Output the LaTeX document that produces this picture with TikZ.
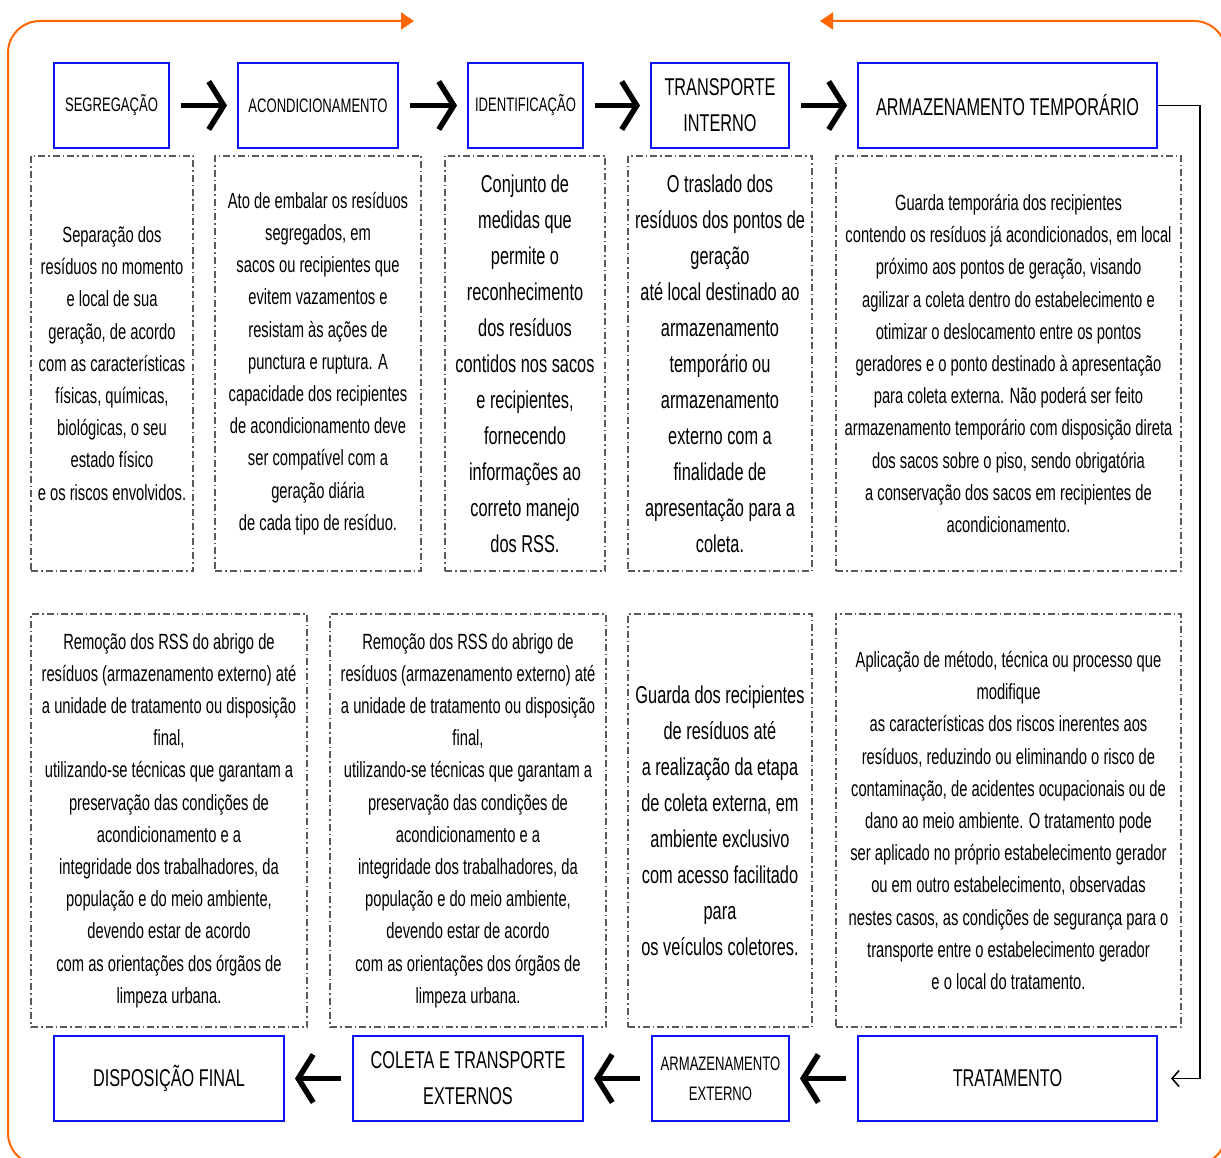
\documentclass[tikz,border=0pt]{standalone}
\usepackage{fontspec}
\setmainfont{Liberation Sans}[FakeStretch=0.67]
\usetikzlibrary{arrows.meta}
\definecolor{boxblue}{RGB}{10,20,245}
\definecolor{dashgray}{RGB}{90,90,90}
\definecolor{flow}{RGB}{255,102,0}
\begin{document}
\begin{tikzpicture}[x=1pt,y=-1pt,
  stepbox/.style={draw=boxblue,line width=2pt,inner sep=0pt,align=center,minimum height=85pt},
  bigfont/.style={font={\fontsize{24.3}{36}\selectfont}},
  smallfont/.style={font={\fontsize{19.5}{30}\selectfont}},
  descbox/.style={draw=dashgray,line width=1.2pt,dash pattern=on 7pt off 3pt on 1.5pt off 3pt,inner sep=0pt,align=center},
  desctext/.style={font={\fontsize{22}{32.2}\selectfont}},
  desclarge/.style={font={\fontsize{24.4}{36}\selectfont}},
  bigarrow/.style={line width=5.5pt,-{Straight Barb[length=15pt,width=48pt]},shorten <=11pt,shorten >=10pt},
  conn/.style={line width=1.6pt,-{Straight Barb[length=7pt,width=16pt]},shorten >=13pt},
  orangeflow/.style={draw=flow,line width=2pt,{Triangle[length=13pt,width=17pt]}-{Triangle[length=13pt,width=17pt]},rounded corners=32pt}
]
\clip (0,0) rectangle (1221,1158);
\fill[white] (0,0) rectangle (1221,1158);

% orange cycle
\coordinate (oa) at (820,21);
\coordinate (ob) at (1226,21);
\coordinate (oc) at (1226,1165);
\coordinate (od) at (8,1165);
\coordinate (oe) at (8,21);
\coordinate (of) at (414,21);
\draw[orangeflow] (oa) -- (ob) -- (oc) -- (od) -- (oe) -- (of);

% top step boxes
\node[stepbox,smallfont,minimum width=115pt] (seg) at (111.5,105.5) {SEGREGAÇÃO};
\node[stepbox,smallfont,minimum width=160pt] (acon) at (318,105.5) {ACONDICIONAMENTO};
\node[stepbox,smallfont,minimum width=115pt] (iden) at (525.5,105.5) {IDENTIFICAÇÃO};
\node[stepbox,bigfont,minimum width=138pt] (trans) at (720,105.5) {TRANSPORTE\\INTERNO};
\node[stepbox,bigfont,minimum width=299pt] (armt) at (1007.5,105.5) {ARMAZENAMENTO TEMPORÁRIO};

% bottom step boxes
\node[stepbox,bigfont,minimum width=230pt] (disp) at (169,1078.5) {DISPOSIÇÃO FINAL};
\node[stepbox,bigfont,minimum width=230pt] (colt) at (468,1078.5) {COLETA E TRANSPORTE\\EXTERNOS};
\node[stepbox,smallfont,minimum width=137pt] (arme) at (720.5,1078.5) {ARMAZENAMENTO\\EXTERNO};
\node[stepbox,bigfont,minimum width=299pt] (trat) at (1007.5,1078.5) {TRATAMENTO};

% top descriptions
\node[descbox,desctext,minimum width=162pt,minimum height=415pt] (d1) at (112,363.5) {Separação dos\\resíduos no momento\\e local de sua\\geração, de acordo\\com as características\\físicas, químicas,\\biológicas, o seu\\estado físico\\e os riscos envolvidos.};
\node[descbox,desctext,minimum width=206pt,minimum height=415pt] (d2) at (318,363.5) {Ato de embalar os resíduos\\segregados, em\\sacos ou recipientes que\\evitem vazamentos e\\resistam às ações de\\punctura e ruptura. A\\capacidade dos recipientes\\de acondicionamento deve\\ser compatível com a\\geração diária\\de cada tipo de resíduo.};
\node[descbox,desclarge,minimum width=160pt,minimum height=415pt] (d3) at (525,363.5) {Conjunto de\\medidas que\\permite o\\reconhecimento\\dos resíduos\\contidos nos sacos\\e recipientes,\\fornecendo\\informações ao\\correto manejo\\dos RSS.};
\node[descbox,desclarge,minimum width=184pt,minimum height=415pt] (d4) at (720,363.5) {O traslado dos\\resíduos dos pontos de\\geração\\até local destinado ao\\armazenamento\\temporário ou\\armazenamento\\externo com a\\finalidade de\\apresentação para a\\coleta.};
\node[descbox,desctext,minimum width=345pt,minimum height=415pt] (d5) at (1008.5,363.5) {Guarda temporária dos recipientes\\contendo os resíduos já acondicionados, em local\\próximo aos pontos de geração, visando\\agilizar a coleta dentro do estabelecimento e\\otimizar o deslocamento entre os pontos\\geradores e o ponto destinado à apresentação\\para coleta externa. Não poderá ser feito\\armazenamento temporário com disposição direta\\dos sacos sobre o piso, sendo obrigatória\\a conservação dos sacos em recipientes de\\acondicionamento.};

% bottom descriptions
\node[descbox,desctext,minimum width=276pt,minimum height=413pt] (e1) at (169,820.5) {Remoção dos RSS do abrigo de\\resíduos (armazenamento externo) até\\a unidade de tratamento ou disposição\\final,\\utilizando-se técnicas que garantam a\\preservação das condições de\\acondicionamento e a\\integridade dos trabalhadores, da\\população e do meio ambiente,\\devendo estar de acordo\\com as orientações dos órgãos de\\limpeza urbana.};
\node[descbox,desctext,minimum width=276pt,minimum height=413pt] (e2) at (468,820.5) {Remoção dos RSS do abrigo de\\resíduos (armazenamento externo) até\\a unidade de tratamento ou disposição\\final,\\utilizando-se técnicas que garantam a\\preservação das condições de\\acondicionamento e a\\integridade dos trabalhadores, da\\população e do meio ambiente,\\devendo estar de acordo\\com as orientações dos órgãos de\\limpeza urbana.};
\node[descbox,desclarge,minimum width=184pt,minimum height=413pt] (e3) at (720,820.5) {Guarda dos recipientes\\de resíduos até\\a realização da etapa\\de coleta externa, em\\ambiente exclusivo\\com acesso facilitado\\para\\os veículos coletores.};
\node[descbox,desctext,minimum width=345pt,minimum height=413pt] (e4) at (1008.5,820.5) {Aplicação de método, técnica ou processo que\\modifique\\as características dos riscos inerentes aos\\resíduos, reduzindo ou eliminando o risco de\\contaminação, de acidentes ocupacionais ou de\\dano ao meio ambiente. O tratamento pode\\ser aplicado no próprio estabelecimento gerador\\ou em outro estabelecimento, observadas\\nestes casos, as condições de segurança para o\\transporte entre o estabelecimento gerador\\e o local do tratamento.};

% step arrows
\draw[bigarrow] (seg) -- (acon);
\draw[bigarrow] (acon) -- (iden);
\draw[bigarrow] (iden) -- (trans);
\draw[bigarrow] (trans) -- (armt);
\draw[bigarrow] (trat) -- (arme);
\draw[bigarrow] (arme) -- (colt);
\draw[bigarrow] (colt) -- (disp);

% side connector
\coordinate (turn) at (1200,105.5);
\draw[conn] (armt.east) -- (turn) |- (trat.east);
\end{tikzpicture}
\end{document}
